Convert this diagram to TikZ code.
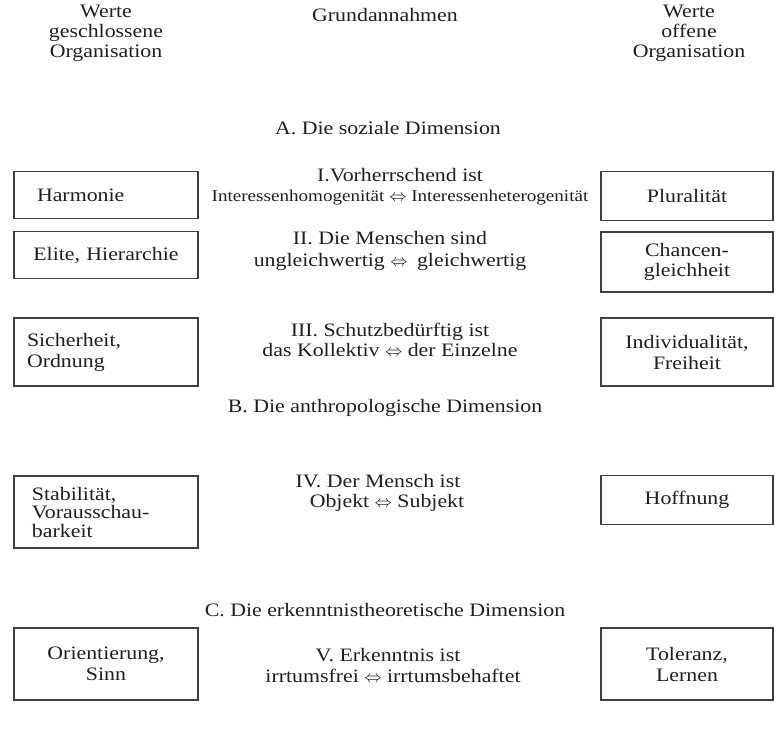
\documentclass[tikz,border=0pt]{standalone}
\usepackage{fontspec}
\setmainfont{Liberation Serif}[FakeStretch=1.15]
\begin{document}
\begin{tikzpicture}[x=1pt,y=-1pt,
  every node/.style={font=\fontsize{19}{20}\selectfont, text=black!88},
  lbox/.style={draw=black!75, line width=1.4pt, minimum width=184pt, text width=158pt, inner xsep=13pt},
  rbox/.style={draw=black!75, line width=1.4pt, minimum width=172pt, text width=156pt, inner xsep=8pt, align=center},
  mid/.style={align=center}]
  \useasboundingbox (0,0) rectangle (775,728);
  % Kopfzeile
  \node[mid] (kopfl) at (106,33) {Werte\\geschlossene\\Organisation};
  \node[mid] (kopfm) at (385,15) {Grundannahmen};
  \node[mid] (kopfr) at (689,33) {Werte\\offene\\Organisation};
  \node[mid] (dima) at (388,128) {A. Die soziale Dimension};
  % I
  \node[lbox, minimum height=47, align=left] (harmonie) at (106,195) {\hspace*{10pt}Harmonie};
  \node[rbox, minimum height=49] (pluralitaet) at (687,196) {Pluralität};
  \node[mid] (eins) at (400,187) {I.Vorherrschend ist\\{\fontsize{16.6}{20}\selectfont Interessenhomogenität $\Leftrightarrow$ Interessenheterogenität}};
  % II
  \node[lbox, minimum height=47, align=center] (elite) at (106,255) {Elite, Hierarchie};
  \node[rbox, minimum height=60] (chancen) at (687,262) {Chancen-\\gleichheit};
  \node[mid] (zwei) at (390,251) {II. Die Menschen sind\\[2pt]ungleichwertig $\Leftrightarrow$\enspace gleichwertig};
  % III
  \node[lbox, minimum height=68, align=left] (sicherheit) at (106,352) {Sicherheit,\\[1pt]Ordnung};
  \node[rbox, minimum height=68] (freiheit) at (687,352) {Individualität,\\[1pt]Freiheit};
  \node[mid] (drei) at (390,340) {III. Schutzbedürftig ist\\das Kollektiv $\Leftrightarrow$ der Einzelne};
  \node[mid] (dimb) at (385,408) {B. Die anthropologische Dimension};
  % IV
  \node[lbox, minimum height=72, align=left, font=\fontsize{19}{18.5}\selectfont] (stabilitaet) at (106,512) {\hspace*{5pt}Stabilität,\\\hspace*{5pt}Vorausschau-\\\hspace*{5pt}barkeit};
  \node[rbox, minimum height=49] (hoffnung) at (687,500) {Hoffnung};
  \node[mid] (vier) at (378,493) {IV. Der Mensch ist\\\hspace*{18pt}Objekt $\Leftrightarrow$ Subjekt};
  \node[mid] (dimc) at (385,610) {C. Die erkenntnistheoretische Dimension};
  % V
  \node[lbox, minimum height=72, align=center] (orientierung) at (106,664) {Orientierung,\\[1pt]Sinn};
  \node[rbox, minimum height=72] (toleranz) at (687,664) {Toleranz,\\[1pt]Lernen};
  \node[mid] (fuenf) at (388,665) {V. Erkenntnis ist\\[1pt]\hspace*{10pt}irrtumsfrei $\Leftrightarrow$ irrtumsbehaftet};
\end{tikzpicture}
\end{document}
